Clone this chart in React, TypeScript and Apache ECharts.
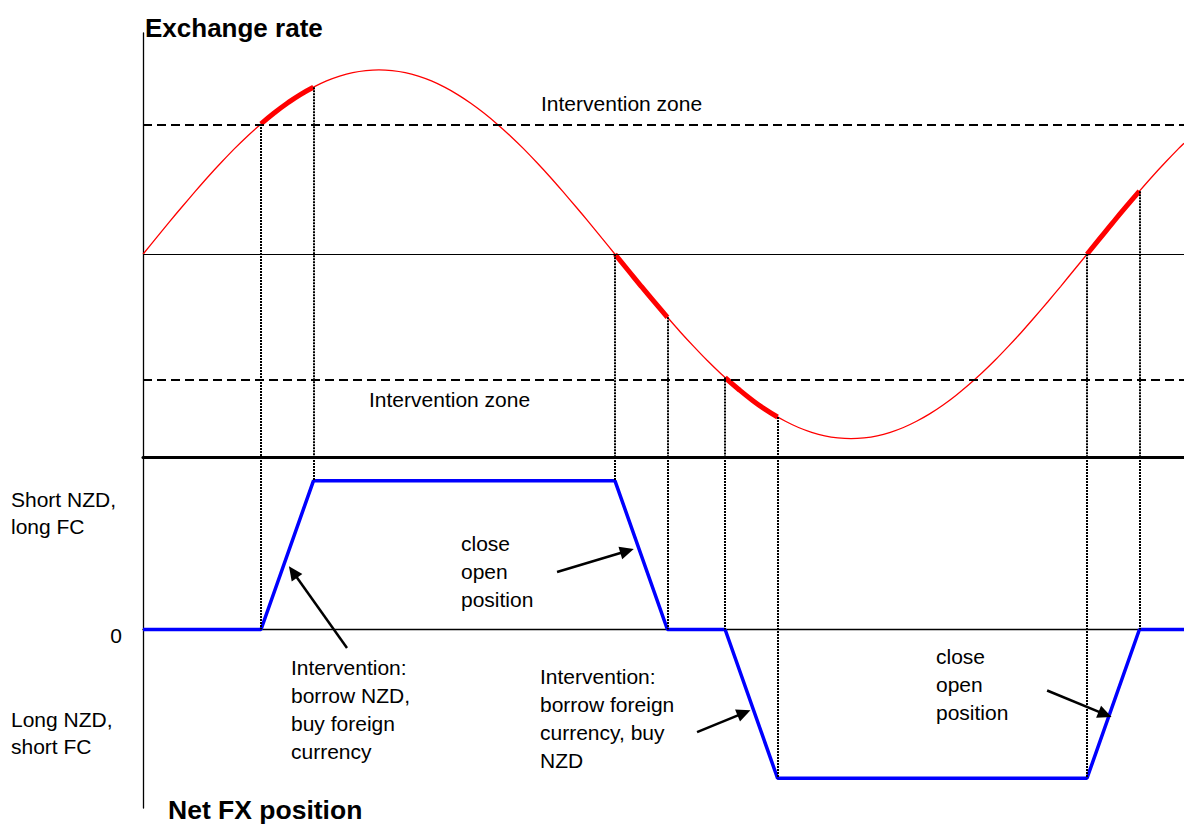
import React, { useEffect, useRef } from "react";
import * as echarts from "echarts";

// Exchange rate curve (phase units, 360 = one full cycle) and its values
const RATE_X = [
  0, 5, 10, 15, 20, 25, 30, 35, 40, 45, 50, 55, 60, 65, 70, 75, 80, 85, 90,
  95, 100, 105, 110, 115, 120, 125, 130, 135, 140, 145, 150, 155, 160, 165, 170, 175, 180,
  185, 190, 195, 200, 205, 210, 215, 220, 225, 230, 235, 240, 245, 250, 255, 260, 265, 270,
  275, 280, 285, 290, 295, 300, 305, 310, 315, 320, 325, 330, 335, 340, 345, 350, 355, 360,
  365, 370, 375, 380, 385, 390, 395, 397,
];
const RATE_Y = [
  0, 0.087, 0.174, 0.259, 0.342, 0.423, 0.5, 0.574, 0.643, 0.707, 0.766, 0.819, 0.866, 0.906, 0.94, 0.966, 0.985, 0.996, 1,
  0.996, 0.985, 0.966, 0.94, 0.906, 0.866, 0.819, 0.766, 0.707, 0.643, 0.574, 0.5, 0.423, 0.342, 0.259, 0.174, 0.087, 0,
  -0.087, -0.174, -0.259, -0.342, -0.423, -0.5, -0.574, -0.643, -0.707, -0.766, -0.819, -0.866, -0.906, -0.94, -0.966, -0.985, -0.996, -1,
  -0.996, -0.985, -0.966, -0.94, -0.906, -0.866, -0.819, -0.766, -0.707, -0.643, -0.574, -0.5, -0.423, -0.342, -0.259, -0.174, -0.087, 0,
  0.087, 0.174, 0.259, 0.342, 0.423, 0.5, 0.574, 0.602,
];

// Highlighted (intervention / close-out) stretches of the exchange rate
const HL1_X = [45, 50, 55, 60, 65];
const HL1_Y = [0.707, 0.766, 0.819, 0.866, 0.906];
const HL2_X = [180, 185, 190, 195, 200];
const HL2_Y = [0, -0.087, -0.174, -0.259, -0.342];
const HL3_X = [222, 227, 232, 237, 242];
const HL3_Y = [-0.669, -0.731, -0.788, -0.839, -0.883];
const HL4_X = [360, 365, 370, 375, 380];
const HL4_Y = [0, 0.087, 0.174, 0.259, 0.342];

// Intervention zone thresholds
const ZONE_UPPER = 0.7;
const ZONE_LOWER = -0.68;

// Net FX position
const POS_X = [0, 45, 65, 180, 200, 222, 242, 360, 380, 397];
const POS_Y = [0, 0, 1, 1, 0, 0, -1, -1, 0, 0];

// Vertical guide lines: x, exchange rate value, position value
const GUIDE_X = [45, 65, 180, 200, 222, 242, 360, 380];
const GUIDE_RATE = [0.707, 0.906, 0, -0.342, -0.669, -0.883, 0, 0.342];
const GUIDE_POS = [0, 1, 1, 0, 0, -1, -1, 0];

// Annotation arrows in the position panel: [tailX, tailY, headX, headY]
const ARROWS = [
  [77.8, -0.124, 57.2, 0.387],
  [157.9, 0.387, 184.6, 0.528],
  [211.3, -0.69, 229.2, -0.56],
  [344.8, -0.41, 366.9, -0.57],
];

const X_MAX = 397;
const TOP_MIN = -1.1;
const TOP_MAX = 1.2;
const BOT_MIN = -1.2;
const BOT_MAX = 1.16;

const FONT = "'Liberation Sans', Arial, Helvetica, sans-serif";

const zip = (xs: number[], ys: number[]) => xs.map((x, i) => [x, ys[i]]);

export default function App() {
  const ref = useRef<HTMLDivElement>(null);

  useEffect(() => {
    if (!ref.current) return;
    const chart = echarts.init(ref.current, null, { renderer: "svg" });

    const txt = (text: string, x: number, y: number, opts: any = {}) => ({
      type: "text",
      x,
      y,
      silent: true,
      style: {
        text,
        fill: "#000",
        font: `${opts.bold ? "bold " : ""}${opts.size || 21}px ${FONT}`,
        align: opts.align || "left",
        verticalAlign: opts.va || "top",
        lineHeight: opts.lh || 28,
      },
    });

    const hlSeries = (xs: number[], ys: number[]) => ({
      type: "line",
      xAxisIndex: 0,
      yAxisIndex: 0,
      data: zip(xs, ys),
      smooth: true,
      showSymbol: false,
      symbol: "none",
      lineStyle: { color: "#ff0000", width: 5 },
      z: 4,
    });

    const guideStyle = { color: "#000", width: 2, type: [2, 1] };

    const option: any = {
      animation: false,
      backgroundColor: "#fff",
      grid: [
        { left: 143, right: 0, top: 33, height: 424 },
        { left: 143, right: 0, top: 457, height: 351 },
      ],
      xAxis: [
        {
          type: "value",
          gridIndex: 0,
          min: 0,
          max: X_MAX,
          axisLine: { show: true, onZero: false, lineStyle: { color: "#000", width: 3 } },
          axisTick: { show: false },
          axisLabel: { show: false },
          splitLine: { show: false },
        },
        {
          type: "value",
          gridIndex: 1,
          min: 0,
          max: X_MAX,
          axisLine: { show: true, onZero: true, lineStyle: { color: "#000", width: 1.3 } },
          axisTick: { show: false },
          axisLabel: { show: false },
          splitLine: { show: false },
        },
      ],
      yAxis: [
        {
          type: "value",
          gridIndex: 0,
          min: TOP_MIN,
          max: TOP_MAX,
          axisLine: { show: true, lineStyle: { color: "#000", width: 1.3 } },
          axisTick: { show: false },
          axisLabel: { show: false },
          splitLine: { show: false },
        },
        {
          type: "value",
          gridIndex: 1,
          min: BOT_MIN,
          max: BOT_MAX,
          axisLine: { show: true, lineStyle: { color: "#000", width: 1.3 } },
          axisTick: { show: false },
          axisLabel: { show: false },
          splitLine: { show: false },
        },
      ],
      series: [
        {
          type: "line",
          name: "Exchange rate",
          xAxisIndex: 0,
          yAxisIndex: 0,
          data: zip(RATE_X, RATE_Y),
          smooth: 0.3,
          showSymbol: false,
          symbol: "none",
          lineStyle: { color: "#ff0000", width: 1.3 },
          z: 3,
          markLine: {
            silent: true,
            symbol: "none",
            label: { show: false },
            animation: false,
            data: [
              { yAxis: 0, lineStyle: { color: "#000", width: 1.2, type: "solid" } },
              { yAxis: ZONE_UPPER, lineStyle: { color: "#000", width: 1.8, type: [9, 5] } },
              { yAxis: ZONE_LOWER, lineStyle: { color: "#000", width: 1.8, type: [9, 5] } },
              ...GUIDE_X.map((x, i) => [
                { coord: [x, GUIDE_RATE[i]], lineStyle: guideStyle },
                { coord: [x, TOP_MIN] },
              ]),
            ],
          },
        },
        hlSeries(HL1_X, HL1_Y),
        hlSeries(HL2_X, HL2_Y),
        hlSeries(HL3_X, HL3_Y),
        hlSeries(HL4_X, HL4_Y),
        {
          type: "line",
          name: "Net FX position",
          xAxisIndex: 1,
          yAxisIndex: 1,
          data: zip(POS_X, POS_Y),
          showSymbol: false,
          symbol: "none",
          lineStyle: { color: "#0000ff", width: 3.5 },
          z: 4,
          markLine: {
            silent: true,
            symbol: "none",
            label: { show: false },
            animation: false,
            data: GUIDE_X.map((x, i) => [
              { coord: [x, BOT_MAX], lineStyle: guideStyle },
              { coord: [x, GUIDE_POS[i]] },
            ]),
          },
        },
        {
          type: "line",
          name: "arrows",
          xAxisIndex: 1,
          yAxisIndex: 1,
          data: [],
          markLine: {
            silent: true,
            symbol: ["none", "triangle"],
            symbolSize: [13, 14],
            label: { show: false },
            animation: false,
            lineStyle: { color: "#000", width: 2.5, type: "solid" },
            itemStyle: { color: "#000" },
            data: ARROWS.map((a) => [{ coord: [a[0], a[1]] }, { coord: [a[2], a[3]] }]),
          },
        },
      ],
      graphic: [
        txt("Exchange rate", 145, 28, { bold: true, size: 26, va: "middle" }),
        txt("Intervention zone", 541, 103, { va: "middle" }),
        txt("Intervention zone", 369, 399, { va: "middle" }),
        txt("Short NZD,\nlong FC", 11, 486, { lh: 27 }),
        txt("0", 122, 635, { align: "right", va: "middle" }),
        txt("Long NZD,\nshort FC", 11, 706, { lh: 27 }),
        txt("Net FX position", 168, 810, { bold: true, size: 26.5, va: "middle" }),
        txt("close\nopen\nposition", 461, 529),
        txt("Intervention:\nborrow NZD,\nbuy foreign\ncurrency", 291, 653),
        txt("Intervention:\nborrow foreign\ncurrency, buy\nNZD", 540, 662),
        txt("close\nopen\nposition", 936, 642),
      ],
    };

    chart.setOption(option);
    return () => chart.dispose();
  }, []);

  return (
    <div
      ref={ref}
      style={{ position: "fixed", left: 0, top: 0, width: 1184, height: 824, background: "#fff" }}
    />
  );
}
